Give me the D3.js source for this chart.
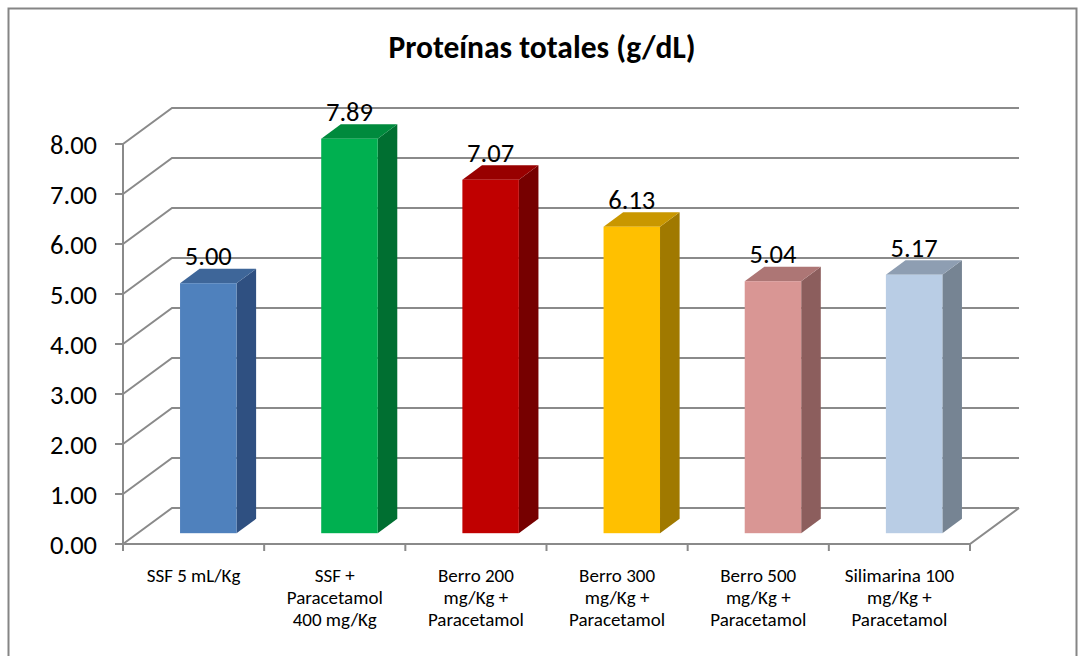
<!DOCTYPE html>
<html>
<head>
<meta charset="utf-8">
<script src="https://cdn.jsdelivr.net/npm/d3@7"></script>
<style>
  html, body { margin: 0; padding: 0; background: #fff; }
  svg { display: block; font-family: Carlito, Calibri, Lato, sans-serif; }
</style>
</head>
<body>
<svg id="chart" width="1078" height="656"></svg>
<script>
// Chart data
const title = "Proteínas totales (g/dL)";
const categories = [
  ["SSF 5 mL/Kg"],
  ["SSF +", "Paracetamol", "400 mg/Kg"],
  ["Berro 200", "mg/Kg +", "Paracetamol"],
  ["Berro 300", "mg/Kg +", "Paracetamol"],
  ["Berro 500", "mg/Kg +", "Paracetamol"],
  ["Silimarina 100", "mg/Kg +", "Paracetamol"]
];
const values = [5.00, 7.89, 7.07, 6.13, 5.04, 5.17];
const yTicks = [0, 1, 2, 3, 4, 5, 6, 7, 8];

// Face colours per bar: front, top, side
const frontColors = ["#4F81BD", "#00B050", "#C00000", "#FFC000", "#D99694", "#B9CDE5"];
const topColors   = ["#3E6699", "#008A3D", "#980000", "#C99700", "#AD7675", "#8E9EB2"];
const sideColors  = ["#2F5081", "#006F31", "#760000", "#A07900", "#8C5E5D", "#768493"];

const svg = d3.select("#chart");

// Outer chart frame
svg.append("rect")
  .attr("x", 8.5).attr("y", 8.5)
  .attr("width", 1068).attr("height", 680)
  .attr("fill", "#fff")
  .attr("stroke", "#858585").attr("stroke-width", 2);

// Title
svg.append("text")
  .attr("x", 542).attr("y", 58)
  .attr("text-anchor", "middle")
  .attr("font-weight", "bold")
  .attr("font-size", 31.5)
  .attr("fill", "#000")
  .text(title);

// Plot geometry (front plane of the 3D box)
const x0 = 123, x1 = 970;
const yBase = 544, yTop = 144;
const depthX = 49, depthY = -36;       // full wall depth
const barFront = 0.3, barBack = 0.7;   // bar position within depth

const y = d3.scaleLinear().domain([0, 8]).range([yBase, yTop]);
const x = d3.scaleBand()
  .domain(d3.range(categories.length))
  .range([x0, x1])
  .paddingInner(0.6)
  .paddingOuter(0.3);

const gridColor = "#8a8a8a";

// Back wall + side wall gridlines
const grid = svg.append("g");
yTicks.forEach(t => {
  const yf = y(t);
  grid.append("path")
    .attr("d", `M${x0},${yf} L${x0 + depthX},${yf + depthY} L${x1 + depthX},${yf + depthY}`)
    .attr("fill", "none")
    .attr("stroke", gridColor)
    .attr("stroke-width", 2);
});

// Floor outline
svg.append("path")
  .attr("d", `M${x0},${yBase} L${x1},${yBase} L${x1 + depthX},${yBase + depthY}`)
  .attr("fill", "none")
  .attr("stroke", gridColor)
  .attr("stroke-width", 2);

// Vertical value axis with tick marks
svg.append("line")
  .attr("x1", x0).attr("x2", x0)
  .attr("y1", yTop).attr("y2", yBase + 7)
  .attr("stroke", gridColor).attr("stroke-width", 2);

const yAxisG = svg.append("g");
yTicks.forEach(t => {
  yAxisG.append("line")
    .attr("x1", x0 - 8).attr("x2", x0)
    .attr("y1", y(t)).attr("y2", y(t))
    .attr("stroke", gridColor).attr("stroke-width", 2);
  yAxisG.append("text")
    .attr("x", 97).attr("y", y(t))
    .attr("dy", "0.36em")
    .attr("text-anchor", "end")
    .attr("font-size", 26.5)
    .attr("fill", "#000")
    .text(d3.format(".2f")(t));
});

// Category boundary ticks on the floor's front edge
const step = x.step();
d3.range(categories.length + 1).forEach(i => {
  const xb = x0 + i * step;
  svg.append("line")
    .attr("x1", xb).attr("x2", xb)
    .attr("y1", yBase).attr("y2", yBase + 7)
    .attr("stroke", gridColor).attr("stroke-width", 2);
});

// 3D bars
const bars = svg.append("g");
values.forEach((v, i) => {
  const fx = x(i) + depthX * barFront;
  const fyb = yBase + depthY * barFront;
  const bw = x.bandwidth();
  const h = yBase - y(v);
  const fyt = fyb - h;
  const ddx = depthX * (barBack - barFront);
  const ddy = depthY * (barBack - barFront);

  // side face
  bars.append("path")
    .attr("d", `M${fx + bw},${fyt} L${fx + bw + ddx},${fyt + ddy} L${fx + bw + ddx},${fyb + ddy} L${fx + bw},${fyb} Z`)
    .attr("fill", sideColors[i]);
  // top face
  bars.append("path")
    .attr("d", `M${fx},${fyt} L${fx + ddx},${fyt + ddy} L${fx + bw + ddx},${fyt + ddy} L${fx + bw},${fyt} Z`)
    .attr("fill", topColors[i]);
  // front face
  bars.append("rect")
    .attr("x", fx).attr("y", fyt)
    .attr("width", bw).attr("height", h)
    .attr("fill", frontColors[i]);

  // value label
  bars.append("text")
    .attr("x", fx + bw / 2)
    .attr("y", fyt - 18)
    .attr("text-anchor", "middle")
    .attr("font-size", 26.5)
    .attr("fill", "#000")
    .text(d3.format(".2f")(v));
});

// Category labels
const labels = svg.append("g");
categories.forEach((lines, i) => {
  const t = labels.append("text")
    .attr("x", x(i) + x.bandwidth() / 2)
    .attr("y", 582)
    .attr("text-anchor", "middle")
    .attr("font-size", 19)
    .attr("fill", "#000");
  lines.forEach((ln, k) => {
    t.append("tspan")
      .attr("x", x(i) + x.bandwidth() / 2)
      .attr("y", 582 + k * 22)
      .text(ln);
  });
});
</script>
</body>
</html>
